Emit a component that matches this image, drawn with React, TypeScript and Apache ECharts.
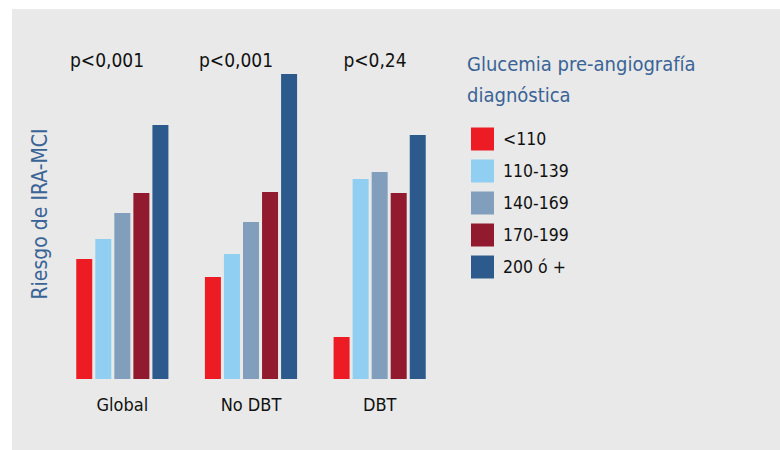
import React, { useEffect, useRef } from "react";
import * as echarts from "echarts";

const categories = ["Global", "No DBT", "DBT"];
const seriesNames = ["<110", "110-139", "140-169", "170-199", "200 ó +"];
const seriesValues = [
  [120, 102, 42],
  [140, 125, 200],
  [166, 157, 207],
  [186, 187, 186],
  [254, 305, 244],
];
const colors = ["#ed1c24", "#91cff2", "#829ebd", "#921a2e", "#2d5a8c"];
const pLabels = ["p<0,001", "p<0,001", "p<0,24"];
const pLabelX = [107, 236, 375];

const FONT = "'DejaVu Sans Condensed', 'Liberation Sans Narrow', 'Roboto', sans-serif";

export default function App() {
  const ref = useRef<HTMLDivElement>(null);
  useEffect(() => {
    document.body.style.margin = "0";
    const chart = echarts.init(ref.current!, null, { renderer: "svg" });
    chart.setOption({
      animation: false,
      backgroundColor: "#ffffff",
      textStyle: { fontFamily: FONT },
      graphic: [
        {
          type: "rect",
          z: -10,
          shape: { x: 12, y: 9, width: 768, height: 441 },
          style: { fill: "#e8e9e8" },
          silent: true,
        },
        ...pLabels.map((t, i) => ({
          type: "text",
          x: pLabelX[i],
          y: 60,
          style: {
            text: t,
            fontFamily: FONT,
            fontSize: 19,
            fill: "#111111",
            align: "center",
            verticalAlign: "middle",
          },
        })),
        {
          type: "text",
          x: 467,
          y: 64,
          style: {
            text: "Glucemia pre-angiografía",
            fontFamily: FONT,
            fontSize: 20,
            fill: "#3a6396",
            verticalAlign: "middle",
          },
        },
        {
          type: "text",
          x: 467,
          y: 95,
          style: {
            text: "diagnóstica",
            fontFamily: FONT,
            fontSize: 20,
            fill: "#3a6396",
            verticalAlign: "middle",
          },
        },
        {
          type: "text",
          x: 40,
          y: 214,
          rotation: Math.PI / 2,
          style: {
            text: "Riesgo de IRA-MCI",
            fontFamily: FONT,
            fontSize: 21,
            fill: "#3a6396",
            align: "center",
            verticalAlign: "middle",
          },
        },
      ],
      legend: {
        orient: "vertical",
        left: 471,
        top: 127.5,
        padding: 0,
        itemWidth: 23,
        itemHeight: 23,
        itemGap: 9,
        icon: "rect",
        data: seriesNames,
        textStyle: { fontFamily: FONT, fontSize: 17.5, color: "#111111", padding: [0, 0, 0, 4] },
      },
      grid: { left: 58, width: 386, top: 59, height: 320, containLabel: false },
      xAxis: {
        type: "category",
        data: categories,
        axisLine: { show: false },
        axisTick: { show: false },
        axisLabel: { fontFamily: FONT, fontSize: 18, color: "#111111", margin: 16 },
      },
      yAxis: {
        type: "value",
        min: 0,
        max: 320,
        show: false,
        splitLine: { show: false },
      },
      series: seriesNames.map((name, i) => ({
        name,
        type: "bar",
        data: seriesValues[i],
        barWidth: 16,
        barGap: "19%",
        itemStyle: { color: colors[i] },
      })),
    });
    return () => chart.dispose();
  }, []);
  return <div ref={ref} style={{ width: 780, height: 450 }} />;
}
